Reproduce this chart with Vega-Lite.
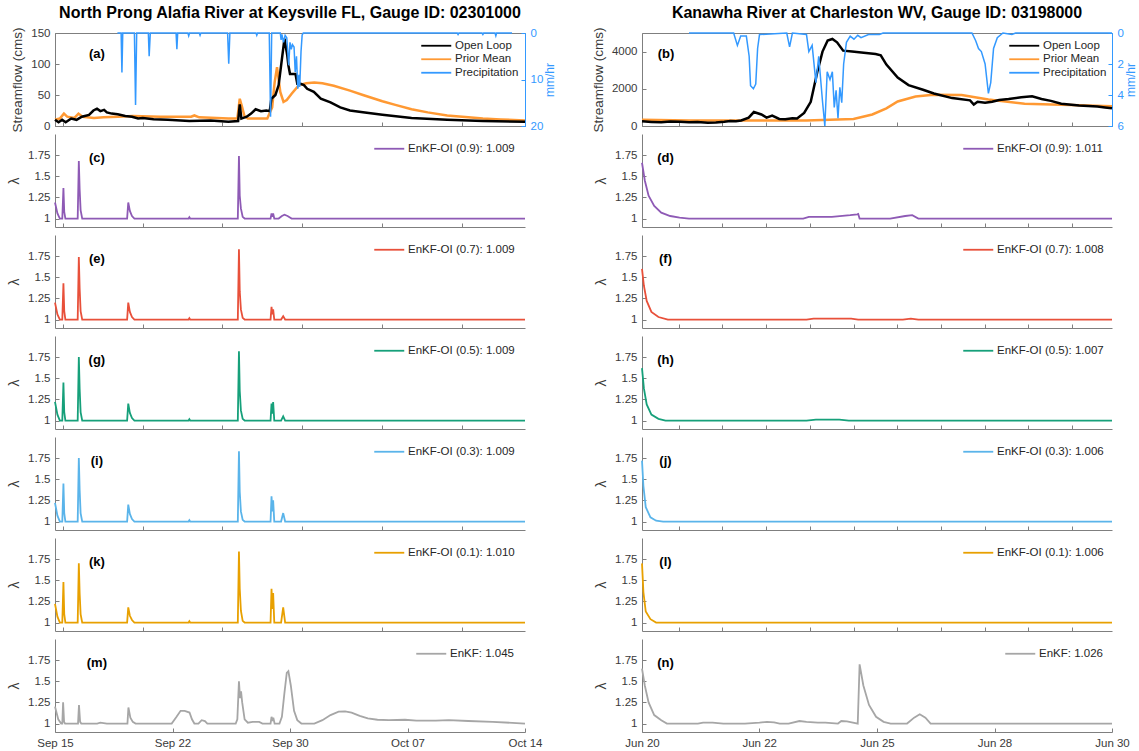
{
"$schema": "https://vega.github.io/schema/vega-lite/v6.json",
"padding": {"left": 7, "top": 4, "right": 0, "bottom": 2},
"config": {
 "font": "Liberation Sans",
 "view": {"stroke": null},
 "axis": {"grid": false, "domainColor": "#7f7f7f", "tickColor": "#7f7f7f", "labelColor": "#3a3a3a", "labelFontSize": 11.5, "titleFontSize": 13.5, "titleFontWeight": "normal", "titleColor": "#3a3a3a", "tickSize": -4, "labelPadding": 9, "titlePadding": 6, "domainWidth": 1, "labelOverlap": false, "labelFlush": false},
 "legend": {"symbolType": "M-3.75,0H3.75", "symbolSize": 64, "symbolStrokeWidth": 2.5, "symbolOffset": 9.5, "labelOffset": 13, "labelFontSize": 11.5, "labelColor": "#262626", "rowPadding": 0.5, "padding": 0},
 "title": {"fontSize": 16, "fontWeight": "bold", "color": "#000000", "frame": "group", "offset": 6},
 "line": {"strokeWidth": 1.8}
},
"columns": 2,
"spacing": {"row": 8, "column": 117},
"bounds": "flush",
"resolve": {"scale": {"color": "independent"}, "legend": {"color": "independent"}},
"datasets": {
 "fa": [
  {"s":"Open Loop","t":"2016-09-15T00:00","v":10},{"s":"Open Loop","t":"2016-09-15T05:17","v":6},{"s":"Open Loop","t":"2016-09-15T10:34","v":10},{"s":"Open Loop","t":"2016-09-15T15:50","v":6},{"s":"Open Loop","t":"2016-09-16T00:00","v":12},{"s":"Open Loop","t":"2016-09-16T07:55","v":10},{"s":"Open Loop","t":"2016-09-16T15:50","v":15},{"s":"Open Loop","t":"2016-09-17T02:24","v":18},{"s":"Open Loop","t":"2016-09-17T08:53","v":25},{"s":"Open Loop","t":"2016-09-17T14:10","v":28},{"s":"Open Loop","t":"2016-09-17T19:12","v":24},{"s":"Open Loop","t":"2016-09-18T00:43","v":26},{"s":"Open Loop","t":"2016-09-18T04:48","v":22},{"s":"Open Loop","t":"2016-09-18T12:00","v":20},{"s":"Open Loop","t":"2016-09-18T20:53","v":19},{"s":"Open Loop","t":"2016-09-19T08:00","v":16},{"s":"Open Loop","t":"2016-09-19T18:00","v":15},{"s":"Open Loop","t":"2016-09-20T03:00","v":12},{"s":"Open Loop","t":"2016-09-20T10:05","v":13},{"s":"Open Loop","t":"2016-09-21T01:55","v":11},{"s":"Open Loop","t":"2016-09-21T23:02","v":10},{"s":"Open Loop","t":"2016-09-22T18:00","v":9},{"s":"Open Loop","t":"2016-09-23T06:58","v":8},{"s":"Open Loop","t":"2016-09-24T14:24","v":9},{"s":"Open Loop","t":"2016-09-25T16:48","v":7},{"s":"Open Loop","t":"2016-09-26T07:12","v":8},{"s":"Open Loop","t":"2016-09-26T09:36","v":35},{"s":"Open Loop","t":"2016-09-26T12:00","v":12},{"s":"Open Loop","t":"2016-09-26T19:55","v":15},{"s":"Open Loop","t":"2016-09-27T02:24","v":20},{"s":"Open Loop","t":"2016-09-27T09:07","v":27},{"s":"Open Loop","t":"2016-09-27T17:02","v":24},{"s":"Open Loop","t":"2016-09-28T00:58","v":25},{"s":"Open Loop","t":"2016-09-28T06:00","v":24},{"s":"Open Loop","t":"2016-09-28T08:24","v":44},{"s":"Open Loop","t":"2016-09-28T14:24","v":50},{"s":"Open Loop","t":"2016-09-28T19:12","v":66},{"s":"Open Loop","t":"2016-09-29T00:00","v":108},{"s":"Open Loop","t":"2016-09-29T03:50","v":141},{"s":"Open Loop","t":"2016-09-29T07:55","v":114},{"s":"Open Loop","t":"2016-09-29T09:36","v":98},{"s":"Open Loop","t":"2016-09-29T12:00","v":84},{"s":"Open Loop","t":"2016-09-29T20:10","v":84},{"s":"Open Loop","t":"2016-09-29T22:48","v":68},{"s":"Open Loop","t":"2016-09-30T03:36","v":68},{"s":"Open Loop","t":"2016-09-30T08:38","v":66},{"s":"Open Loop","t":"2016-09-30T13:26","v":60},{"s":"Open Loop","t":"2016-09-30T23:17","v":55},{"s":"Open Loop","t":"2016-10-01T09:36","v":44},{"s":"Open Loop","t":"2016-10-02T00:00","v":38},{"s":"Open Loop","t":"2016-10-02T14:24","v":30},{"s":"Open Loop","t":"2016-10-03T04:48","v":25},{"s":"Open Loop","t":"2016-10-04T00:00","v":22},{"s":"Open Loop","t":"2016-10-05T04:48","v":18},{"s":"Open Loop","t":"2016-10-07T00:00","v":13},{"s":"Open Loop","t":"2016-10-09T04:48","v":10},{"s":"Open Loop","t":"2016-10-11T09:36","v":8},{"s":"Open Loop","t":"2016-10-14T00:00","v":7},
  {"s":"Prior Mean","t":"2016-09-15T00:00","v":10},{"s":"Prior Mean","t":"2016-09-15T07:12","v":12},{"s":"Prior Mean","t":"2016-09-15T13:12","v":20},{"s":"Prior Mean","t":"2016-09-15T18:00","v":15},{"s":"Prior Mean","t":"2016-09-16T04:48","v":13},{"s":"Prior Mean","t":"2016-09-16T10:48","v":20},{"s":"Prior Mean","t":"2016-09-16T16:48","v":15},{"s":"Prior Mean","t":"2016-09-17T09:36","v":13},{"s":"Prior Mean","t":"2016-09-18T00:00","v":14},{"s":"Prior Mean","t":"2016-09-18T21:36","v":15},{"s":"Prior Mean","t":"2016-09-19T19:12","v":16},{"s":"Prior Mean","t":"2016-09-21T12:00","v":15},{"s":"Prior Mean","t":"2016-09-23T09:36","v":15},{"s":"Prior Mean","t":"2016-09-23T14:24","v":17},{"s":"Prior Mean","t":"2016-09-23T21:36","v":14},{"s":"Prior Mean","t":"2016-09-25T16:48","v":12},{"s":"Prior Mean","t":"2016-09-26T06:00","v":12},{"s":"Prior Mean","t":"2016-09-26T09:36","v":44},{"s":"Prior Mean","t":"2016-09-26T13:12","v":30},{"s":"Prior Mean","t":"2016-09-26T16:48","v":15},{"s":"Prior Mean","t":"2016-09-26T21:36","v":12},{"s":"Prior Mean","t":"2016-09-28T02:24","v":12},{"s":"Prior Mean","t":"2016-09-28T04:48","v":18},{"s":"Prior Mean","t":"2016-09-28T09:36","v":30},{"s":"Prior Mean","t":"2016-09-28T13:12","v":70},{"s":"Prior Mean","t":"2016-09-28T16:48","v":95},{"s":"Prior Mean","t":"2016-09-28T21:36","v":55},{"s":"Prior Mean","t":"2016-09-29T02:24","v":39},{"s":"Prior Mean","t":"2016-09-29T07:12","v":42},{"s":"Prior Mean","t":"2016-09-29T14:24","v":52},{"s":"Prior Mean","t":"2016-09-30T01:12","v":66},{"s":"Prior Mean","t":"2016-09-30T12:00","v":69},{"s":"Prior Mean","t":"2016-10-01T00:00","v":70},{"s":"Prior Mean","t":"2016-10-01T12:00","v":69},{"s":"Prior Mean","t":"2016-10-02T04:48","v":65},{"s":"Prior Mean","t":"2016-10-03T04:48","v":57},{"s":"Prior Mean","t":"2016-10-04T00:00","v":50},{"s":"Prior Mean","t":"2016-10-05T04:48","v":40},{"s":"Prior Mean","t":"2016-10-06T00:00","v":34},{"s":"Prior Mean","t":"2016-10-07T00:00","v":27},{"s":"Prior Mean","t":"2016-10-08T00:00","v":22},{"s":"Prior Mean","t":"2016-10-09T04:48","v":17},{"s":"Prior Mean","t":"2016-10-10T12:00","v":14},{"s":"Prior Mean","t":"2016-10-11T09:36","v":12},{"s":"Prior Mean","t":"2016-10-12T12:00","v":10.5},{"s":"Prior Mean","t":"2016-10-14T00:00","v":9}
 ],
 "pa": [
  {"s":"Precipitation","t":"2016-09-18T20:24","v":0},{"s":"Precipitation","t":"2016-09-19T01:55","v":0},{"s":"Precipitation","t":"2016-09-19T03:07","v":8.5},{"s":"Precipitation","t":"2016-09-19T04:19","v":0},{"s":"Precipitation","t":"2016-09-19T21:36","v":0},{"s":"Precipitation","t":"2016-09-19T23:17","v":15.5},{"s":"Precipitation","t":"2016-09-20T00:58","v":0},{"s":"Precipitation","t":"2016-09-20T18:14","v":0},{"s":"Precipitation","t":"2016-09-20T19:26","v":5},{"s":"Precipitation","t":"2016-09-20T21:07","v":0},{"s":"Precipitation","t":"2016-09-22T11:17","v":0},{"s":"Precipitation","t":"2016-09-22T12:29","v":3.5},{"s":"Precipitation","t":"2016-09-22T13:41","v":0},{"s":"Precipitation","t":"2016-09-23T04:48","v":0},{"s":"Precipitation","t":"2016-09-23T06:00","v":0.6},{"s":"Precipitation","t":"2016-09-23T07:12","v":0},{"s":"Precipitation","t":"2016-09-23T21:36","v":0},{"s":"Precipitation","t":"2016-09-23T22:48","v":0.5},{"s":"Precipitation","t":"2016-09-24T00:00","v":0},{"s":"Precipitation","t":"2016-09-25T15:36","v":0},{"s":"Precipitation","t":"2016-09-25T17:17","v":6.6},{"s":"Precipitation","t":"2016-09-25T18:58","v":0},{"s":"Precipitation","t":"2016-09-27T09:36","v":0},{"s":"Precipitation","t":"2016-09-27T10:48","v":0.5},{"s":"Precipitation","t":"2016-09-27T12:00","v":0},{"s":"Precipitation","t":"2016-09-28T05:17","v":0},{"s":"Precipitation","t":"2016-09-28T07:12","v":18},{"s":"Precipitation","t":"2016-09-28T08:53","v":0},{"s":"Precipitation","t":"2016-09-28T21:36","v":0},{"s":"Precipitation","t":"2016-09-28T22:48","v":1.5},{"s":"Precipitation","t":"2016-09-29T00:00","v":0.3},{"s":"Precipitation","t":"2016-09-29T02:24","v":2},{"s":"Precipitation","t":"2016-09-29T04:48","v":0.5},{"s":"Precipitation","t":"2016-09-29T07:12","v":1},{"s":"Precipitation","t":"2016-09-29T10:05","v":6.9},{"s":"Precipitation","t":"2016-09-29T12:00","v":2},{"s":"Precipitation","t":"2016-09-29T13:55","v":3.5},{"s":"Precipitation","t":"2016-09-29T15:36","v":2.5},{"s":"Precipitation","t":"2016-09-29T18:00","v":3},{"s":"Precipitation","t":"2016-09-29T19:41","v":8.4},{"s":"Precipitation","t":"2016-09-29T21:36","v":5},{"s":"Precipitation","t":"2016-09-29T23:31","v":12},{"s":"Precipitation","t":"2016-09-30T01:12","v":9},{"s":"Precipitation","t":"2016-09-30T02:24","v":11.6},{"s":"Precipitation","t":"2016-09-30T04:19","v":4},{"s":"Precipitation","t":"2016-09-30T06:00","v":0.4},{"s":"Precipitation","t":"2016-09-30T07:41","v":0},{"s":"Precipitation","t":"2016-10-09T19:41","v":0},{"s":"Precipitation","t":"2016-10-09T20:53","v":0.3},{"s":"Precipitation","t":"2016-10-09T22:05","v":0},{"s":"Precipitation","t":"2016-10-11T08:24","v":0},{"s":"Precipitation","t":"2016-10-11T09:36","v":0.3},{"s":"Precipitation","t":"2016-10-11T10:48","v":0},{"s":"Precipitation","t":"2016-10-12T03:36","v":0},{"s":"Precipitation","t":"2016-10-12T04:48","v":0.6},{"s":"Precipitation","t":"2016-10-12T06:00","v":0},{"s":"Precipitation","t":"2016-10-13T04:48","v":0}
 ],
 "fb": [
  {"s":"Open Loop","t":"2016-06-20T00:00","v":250},{"s":"Open Loop","t":"2016-06-20T04:48","v":220},{"s":"Open Loop","t":"2016-06-20T09:50","v":200},{"s":"Open Loop","t":"2016-06-20T14:24","v":240},{"s":"Open Loop","t":"2016-06-20T19:12","v":230},{"s":"Open Loop","t":"2016-06-21T00:00","v":200},{"s":"Open Loop","t":"2016-06-21T04:19","v":210},{"s":"Open Loop","t":"2016-06-21T09:36","v":170},{"s":"Open Loop","t":"2016-06-21T13:41","v":190},{"s":"Open Loop","t":"2016-06-21T18:00","v":230},{"s":"Open Loop","t":"2016-06-21T21:07","v":270},{"s":"Open Loop","t":"2016-06-22T00:00","v":260},{"s":"Open Loop","t":"2016-06-22T02:38","v":300},{"s":"Open Loop","t":"2016-06-22T06:29","v":450},{"s":"Open Loop","t":"2016-06-22T09:07","v":750},{"s":"Open Loop","t":"2016-06-22T12:58","v":620},{"s":"Open Loop","t":"2016-06-22T15:36","v":450},{"s":"Open Loop","t":"2016-06-22T18:29","v":560},{"s":"Open Loop","t":"2016-06-22T22:05","v":380},{"s":"Open Loop","t":"2016-06-23T01:12","v":360},{"s":"Open Loop","t":"2016-06-23T04:48","v":420},{"s":"Open Loop","t":"2016-06-23T07:12","v":400},{"s":"Open Loop","t":"2016-06-23T10:48","v":700},{"s":"Open Loop","t":"2016-06-23T14:10","v":1300},{"s":"Open Loop","t":"2016-06-23T17:31","v":2900},{"s":"Open Loop","t":"2016-06-23T20:10","v":4000},{"s":"Open Loop","t":"2016-06-23T22:48","v":4600},{"s":"Open Loop","t":"2016-06-24T01:12","v":4680},{"s":"Open Loop","t":"2016-06-24T03:36","v":4500},{"s":"Open Loop","t":"2016-06-24T06:43","v":4050},{"s":"Open Loop","t":"2016-06-24T11:17","v":4000},{"s":"Open Loop","t":"2016-06-24T16:00","v":3950},{"s":"Open Loop","t":"2016-06-24T23:17","v":3870},{"s":"Open Loop","t":"2016-06-25T01:55","v":3800},{"s":"Open Loop","t":"2016-06-25T04:48","v":3300},{"s":"Open Loop","t":"2016-06-25T10:34","v":2600},{"s":"Open Loop","t":"2016-06-25T16:05","v":2200},{"s":"Open Loop","t":"2016-06-25T23:31","v":1950},{"s":"Open Loop","t":"2016-06-26T05:02","v":1750},{"s":"Open Loop","t":"2016-06-26T14:24","v":1500},{"s":"Open Loop","t":"2016-06-26T23:31","v":1380},{"s":"Open Loop","t":"2016-06-27T01:26","v":1150},{"s":"Open Loop","t":"2016-06-27T03:22","v":1300},{"s":"Open Loop","t":"2016-06-27T07:12","v":1250},{"s":"Open Loop","t":"2016-06-27T10:48","v":1300},{"s":"Open Loop","t":"2016-06-27T14:24","v":1400},{"s":"Open Loop","t":"2016-06-27T19:12","v":1450},{"s":"Open Loop","t":"2016-06-28T01:41","v":1550},{"s":"Open Loop","t":"2016-06-28T07:12","v":1600},{"s":"Open Loop","t":"2016-06-28T12:00","v":1450},{"s":"Open Loop","t":"2016-06-28T16:48","v":1350},{"s":"Open Loop","t":"2016-06-28T22:05","v":1200},{"s":"Open Loop","t":"2016-06-29T07:12","v":1100},{"s":"Open Loop","t":"2016-06-29T16:34","v":1050},{"s":"Open Loop","t":"2016-06-29T20:24","v":1000},{"s":"Open Loop","t":"2016-06-30T00:00","v":950},
  {"s":"Prior Mean","t":"2016-06-20T00:00","v":330},{"s":"Prior Mean","t":"2016-06-21T00:00","v":300},{"s":"Prior Mean","t":"2016-06-22T00:00","v":290},{"s":"Prior Mean","t":"2016-06-23T00:00","v":290},{"s":"Prior Mean","t":"2016-06-23T12:00","v":300},{"s":"Prior Mean","t":"2016-06-24T00:00","v":330},{"s":"Prior Mean","t":"2016-06-24T12:00","v":380},{"s":"Prior Mean","t":"2016-06-24T21:36","v":620},{"s":"Prior Mean","t":"2016-06-25T04:48","v":950},{"s":"Prior Mean","t":"2016-06-25T10:34","v":1320},{"s":"Prior Mean","t":"2016-06-25T19:41","v":1590},{"s":"Prior Mean","t":"2016-06-26T04:48","v":1680},{"s":"Prior Mean","t":"2016-06-26T19:12","v":1670},{"s":"Prior Mean","t":"2016-06-27T08:53","v":1420},{"s":"Prior Mean","t":"2016-06-28T03:22","v":1200},{"s":"Prior Mean","t":"2016-06-29T07:12","v":1110},{"s":"Prior Mean","t":"2016-06-30T00:00","v":1060}
 ],
 "pb": [
  {"s":"Precipitation","t":"2016-06-21T00:00","v":0},{"s":"Precipitation","t":"2016-06-21T22:48","v":0},{"s":"Precipitation","t":"2016-06-22T00:43","v":0.8},{"s":"Precipitation","t":"2016-06-22T02:24","v":0.2},{"s":"Precipitation","t":"2016-06-22T05:17","v":0.2},{"s":"Precipitation","t":"2016-06-22T06:43","v":1.5},{"s":"Precipitation","t":"2016-06-22T07:26","v":3.4},{"s":"Precipitation","t":"2016-06-22T08:53","v":3.6},{"s":"Precipitation","t":"2016-06-22T10:05","v":3.3},{"s":"Precipitation","t":"2016-06-22T11:02","v":1},{"s":"Precipitation","t":"2016-06-22T12:00","v":0.1},{"s":"Precipitation","t":"2016-06-23T01:55","v":0},{"s":"Precipitation","t":"2016-06-23T03:22","v":0.9},{"s":"Precipitation","t":"2016-06-23T04:48","v":0},{"s":"Precipitation","t":"2016-06-23T12:00","v":0.1},{"s":"Precipitation","t":"2016-06-23T13:12","v":1.2},{"s":"Precipitation","t":"2016-06-23T14:53","v":0.8},{"s":"Precipitation","t":"2016-06-23T16:48","v":3.2},{"s":"Precipitation","t":"2016-06-23T18:14","v":1.5},{"s":"Precipitation","t":"2016-06-23T20:10","v":4.4},{"s":"Precipitation","t":"2016-06-23T21:22","v":6},{"s":"Precipitation","t":"2016-06-23T22:34","v":2.5},{"s":"Precipitation","t":"2016-06-24T00:00","v":3},{"s":"Precipitation","t":"2016-06-24T01:12","v":2.5},{"s":"Precipitation","t":"2016-06-24T02:10","v":4.8},{"s":"Precipitation","t":"2016-06-24T03:07","v":3.7},{"s":"Precipitation","t":"2016-06-24T04:05","v":5.5},{"s":"Precipitation","t":"2016-06-24T05:02","v":3.5},{"s":"Precipitation","t":"2016-06-24T06:00","v":4.5},{"s":"Precipitation","t":"2016-06-24T06:58","v":2},{"s":"Precipitation","t":"2016-06-24T08:24","v":0.6},{"s":"Precipitation","t":"2016-06-24T10:19","v":0.2},{"s":"Precipitation","t":"2016-06-24T12:14","v":0.4},{"s":"Precipitation","t":"2016-06-24T14:10","v":0.15},{"s":"Precipitation","t":"2016-06-24T15:50","v":0.3},{"s":"Precipitation","t":"2016-06-24T19:41","v":0.1},{"s":"Precipitation","t":"2016-06-25T01:12","v":0.1},{"s":"Precipitation","t":"2016-06-25T03:07","v":0},{"s":"Precipitation","t":"2016-06-27T00:29","v":0},{"s":"Precipitation","t":"2016-06-27T02:24","v":0.5},{"s":"Precipitation","t":"2016-06-27T03:50","v":1},{"s":"Precipitation","t":"2016-06-27T05:17","v":1.2},{"s":"Precipitation","t":"2016-06-27T07:12","v":2},{"s":"Precipitation","t":"2016-06-27T08:53","v":3.9},{"s":"Precipitation","t":"2016-06-27T10:05","v":3.2},{"s":"Precipitation","t":"2016-06-27T11:31","v":1},{"s":"Precipitation","t":"2016-06-27T13:26","v":0.3},{"s":"Precipitation","t":"2016-06-27T16:19","v":0},{"s":"Precipitation","t":"2016-06-27T20:53","v":0.1},{"s":"Precipitation","t":"2016-06-27T22:48","v":0},{"s":"Precipitation","t":"2016-06-30T00:00","v":0}
 ],
 "lc": [
  {"s":"EnKF-OI (0.9): 1.009","t":"2016-09-15T00:00","v":1.19},{"s":"EnKF-OI (0.9): 1.009","t":"2016-09-15T03:36","v":1.06},{"s":"EnKF-OI (0.9): 1.009","t":"2016-09-15T07:12","v":1},{"s":"EnKF-OI (0.9): 1.009","t":"2016-09-15T10:48","v":1},{"s":"EnKF-OI (0.9): 1.009","t":"2016-09-15T12:29","v":1.36},{"s":"EnKF-OI (0.9): 1.009","t":"2016-09-15T13:41","v":1.08},{"s":"EnKF-OI (0.9): 1.009","t":"2016-09-15T15:22","v":1},{"s":"EnKF-OI (0.9): 1.009","t":"2016-09-16T09:36","v":1},{"s":"EnKF-OI (0.9): 1.009","t":"2016-09-16T11:17","v":1.68},{"s":"EnKF-OI (0.9): 1.009","t":"2016-09-16T12:29","v":1.35},{"s":"EnKF-OI (0.9): 1.009","t":"2016-09-16T13:55","v":1.1},{"s":"EnKF-OI (0.9): 1.009","t":"2016-09-16T16:19","v":1},{"s":"EnKF-OI (0.9): 1.009","t":"2016-09-19T10:48","v":1},{"s":"EnKF-OI (0.9): 1.009","t":"2016-09-19T12:29","v":1.19},{"s":"EnKF-OI (0.9): 1.009","t":"2016-09-19T14:53","v":1.09},{"s":"EnKF-OI (0.9): 1.009","t":"2016-09-19T18:00","v":1.03},{"s":"EnKF-OI (0.9): 1.009","t":"2016-09-19T21:36","v":1},{"s":"EnKF-OI (0.9): 1.009","t":"2016-09-23T05:46","v":1},{"s":"EnKF-OI (0.9): 1.009","t":"2016-09-23T06:58","v":1.015},{"s":"EnKF-OI (0.9): 1.009","t":"2016-09-23T08:10","v":1},{"s":"EnKF-OI (0.9): 1.009","t":"2016-09-26T06:43","v":1},{"s":"EnKF-OI (0.9): 1.009","t":"2016-09-26T08:24","v":1.74},{"s":"EnKF-OI (0.9): 1.009","t":"2016-09-26T09:36","v":1.27},{"s":"EnKF-OI (0.9): 1.009","t":"2016-09-26T11:17","v":1.12},{"s":"EnKF-OI (0.9): 1.009","t":"2016-09-26T13:55","v":1.02},{"s":"EnKF-OI (0.9): 1.009","t":"2016-09-26T16:48","v":1},{"s":"EnKF-OI (0.9): 1.009","t":"2016-09-28T07:12","v":1},{"s":"EnKF-OI (0.9): 1.009","t":"2016-09-28T08:38","v":1.06},{"s":"EnKF-OI (0.9): 1.009","t":"2016-09-28T09:50","v":1.02},{"s":"EnKF-OI (0.9): 1.009","t":"2016-09-28T11:02","v":1.06},{"s":"EnKF-OI (0.9): 1.009","t":"2016-09-28T12:43","v":1},{"s":"EnKF-OI (0.9): 1.009","t":"2016-09-28T19:12","v":1},{"s":"EnKF-OI (0.9): 1.009","t":"2016-09-29T00:00","v":1.03},{"s":"EnKF-OI (0.9): 1.009","t":"2016-09-29T03:50","v":1.045},{"s":"EnKF-OI (0.9): 1.009","t":"2016-09-29T08:24","v":1.03},{"s":"EnKF-OI (0.9): 1.009","t":"2016-09-29T14:24","v":1},{"s":"EnKF-OI (0.9): 1.009","t":"2016-10-14T00:00","v":1}
 ],
 "le": [
  {"s":"EnKF-OI (0.7): 1.009","t":"2016-09-15T00:00","v":1.2},{"s":"EnKF-OI (0.7): 1.009","t":"2016-09-15T03:36","v":1.06},{"s":"EnKF-OI (0.7): 1.009","t":"2016-09-15T07:12","v":1},{"s":"EnKF-OI (0.7): 1.009","t":"2016-09-15T10:48","v":1},{"s":"EnKF-OI (0.7): 1.009","t":"2016-09-15T12:29","v":1.43},{"s":"EnKF-OI (0.7): 1.009","t":"2016-09-15T13:41","v":1.1},{"s":"EnKF-OI (0.7): 1.009","t":"2016-09-15T15:22","v":1},{"s":"EnKF-OI (0.7): 1.009","t":"2016-09-16T09:36","v":1},{"s":"EnKF-OI (0.7): 1.009","t":"2016-09-16T11:17","v":1.74},{"s":"EnKF-OI (0.7): 1.009","t":"2016-09-16T12:29","v":1.37},{"s":"EnKF-OI (0.7): 1.009","t":"2016-09-16T13:55","v":1.1},{"s":"EnKF-OI (0.7): 1.009","t":"2016-09-16T16:19","v":1},{"s":"EnKF-OI (0.7): 1.009","t":"2016-09-19T10:48","v":1},{"s":"EnKF-OI (0.7): 1.009","t":"2016-09-19T12:29","v":1.2},{"s":"EnKF-OI (0.7): 1.009","t":"2016-09-19T14:53","v":1.09},{"s":"EnKF-OI (0.7): 1.009","t":"2016-09-19T18:00","v":1.03},{"s":"EnKF-OI (0.7): 1.009","t":"2016-09-19T21:36","v":1},{"s":"EnKF-OI (0.7): 1.009","t":"2016-09-23T05:46","v":1},{"s":"EnKF-OI (0.7): 1.009","t":"2016-09-23T06:58","v":1.015},{"s":"EnKF-OI (0.7): 1.009","t":"2016-09-23T08:10","v":1},{"s":"EnKF-OI (0.7): 1.009","t":"2016-09-26T06:43","v":1},{"s":"EnKF-OI (0.7): 1.009","t":"2016-09-26T08:24","v":1.83},{"s":"EnKF-OI (0.7): 1.009","t":"2016-09-26T09:36","v":1.33},{"s":"EnKF-OI (0.7): 1.009","t":"2016-09-26T11:17","v":1.12},{"s":"EnKF-OI (0.7): 1.009","t":"2016-09-26T13:55","v":1.02},{"s":"EnKF-OI (0.7): 1.009","t":"2016-09-26T16:48","v":1},{"s":"EnKF-OI (0.7): 1.009","t":"2016-09-28T07:12","v":1},{"s":"EnKF-OI (0.7): 1.009","t":"2016-09-28T08:38","v":1.15},{"s":"EnKF-OI (0.7): 1.009","t":"2016-09-28T09:50","v":1.06},{"s":"EnKF-OI (0.7): 1.009","t":"2016-09-28T11:02","v":1.12},{"s":"EnKF-OI (0.7): 1.009","t":"2016-09-28T12:43","v":1},{"s":"EnKF-OI (0.7): 1.009","t":"2016-09-28T22:48","v":1},{"s":"EnKF-OI (0.7): 1.009","t":"2016-09-29T01:55","v":1.04},{"s":"EnKF-OI (0.7): 1.009","t":"2016-09-29T04:48","v":1},{"s":"EnKF-OI (0.7): 1.009","t":"2016-10-14T00:00","v":1}
 ],
 "lg": [
  {"s":"EnKF-OI (0.5): 1.009","t":"2016-09-15T00:00","v":1.22},{"s":"EnKF-OI (0.5): 1.009","t":"2016-09-15T03:36","v":1.07},{"s":"EnKF-OI (0.5): 1.009","t":"2016-09-15T07:12","v":1},{"s":"EnKF-OI (0.5): 1.009","t":"2016-09-15T10:48","v":1},{"s":"EnKF-OI (0.5): 1.009","t":"2016-09-15T12:29","v":1.45},{"s":"EnKF-OI (0.5): 1.009","t":"2016-09-15T13:41","v":1.1},{"s":"EnKF-OI (0.5): 1.009","t":"2016-09-15T15:22","v":1},{"s":"EnKF-OI (0.5): 1.009","t":"2016-09-16T09:36","v":1},{"s":"EnKF-OI (0.5): 1.009","t":"2016-09-16T11:17","v":1.75},{"s":"EnKF-OI (0.5): 1.009","t":"2016-09-16T12:29","v":1.38},{"s":"EnKF-OI (0.5): 1.009","t":"2016-09-16T13:55","v":1.1},{"s":"EnKF-OI (0.5): 1.009","t":"2016-09-16T16:19","v":1},{"s":"EnKF-OI (0.5): 1.009","t":"2016-09-19T10:48","v":1},{"s":"EnKF-OI (0.5): 1.009","t":"2016-09-19T12:29","v":1.2},{"s":"EnKF-OI (0.5): 1.009","t":"2016-09-19T14:53","v":1.09},{"s":"EnKF-OI (0.5): 1.009","t":"2016-09-19T18:00","v":1.03},{"s":"EnKF-OI (0.5): 1.009","t":"2016-09-19T21:36","v":1},{"s":"EnKF-OI (0.5): 1.009","t":"2016-09-23T05:46","v":1},{"s":"EnKF-OI (0.5): 1.009","t":"2016-09-23T06:58","v":1.015},{"s":"EnKF-OI (0.5): 1.009","t":"2016-09-23T08:10","v":1},{"s":"EnKF-OI (0.5): 1.009","t":"2016-09-26T06:43","v":1},{"s":"EnKF-OI (0.5): 1.009","t":"2016-09-26T08:24","v":1.82},{"s":"EnKF-OI (0.5): 1.009","t":"2016-09-26T09:36","v":1.35},{"s":"EnKF-OI (0.5): 1.009","t":"2016-09-26T11:17","v":1.12},{"s":"EnKF-OI (0.5): 1.009","t":"2016-09-26T13:55","v":1.02},{"s":"EnKF-OI (0.5): 1.009","t":"2016-09-26T16:48","v":1},{"s":"EnKF-OI (0.5): 1.009","t":"2016-09-28T07:12","v":1},{"s":"EnKF-OI (0.5): 1.009","t":"2016-09-28T08:38","v":1.2},{"s":"EnKF-OI (0.5): 1.009","t":"2016-09-28T09:50","v":1.08},{"s":"EnKF-OI (0.5): 1.009","t":"2016-09-28T11:02","v":1.22},{"s":"EnKF-OI (0.5): 1.009","t":"2016-09-28T12:43","v":1},{"s":"EnKF-OI (0.5): 1.009","t":"2016-09-28T22:48","v":1},{"s":"EnKF-OI (0.5): 1.009","t":"2016-09-29T01:55","v":1.05},{"s":"EnKF-OI (0.5): 1.009","t":"2016-09-29T04:48","v":1},{"s":"EnKF-OI (0.5): 1.009","t":"2016-10-14T00:00","v":1}
 ],
 "li": [
  {"s":"EnKF-OI (0.3): 1.009","t":"2016-09-15T00:00","v":1.22},{"s":"EnKF-OI (0.3): 1.009","t":"2016-09-15T03:36","v":1.07},{"s":"EnKF-OI (0.3): 1.009","t":"2016-09-15T07:12","v":1},{"s":"EnKF-OI (0.3): 1.009","t":"2016-09-15T10:48","v":1},{"s":"EnKF-OI (0.3): 1.009","t":"2016-09-15T12:29","v":1.45},{"s":"EnKF-OI (0.3): 1.009","t":"2016-09-15T13:41","v":1.1},{"s":"EnKF-OI (0.3): 1.009","t":"2016-09-15T15:22","v":1},{"s":"EnKF-OI (0.3): 1.009","t":"2016-09-16T09:36","v":1},{"s":"EnKF-OI (0.3): 1.009","t":"2016-09-16T11:17","v":1.75},{"s":"EnKF-OI (0.3): 1.009","t":"2016-09-16T12:29","v":1.38},{"s":"EnKF-OI (0.3): 1.009","t":"2016-09-16T13:55","v":1.1},{"s":"EnKF-OI (0.3): 1.009","t":"2016-09-16T16:19","v":1},{"s":"EnKF-OI (0.3): 1.009","t":"2016-09-19T10:48","v":1},{"s":"EnKF-OI (0.3): 1.009","t":"2016-09-19T12:29","v":1.2},{"s":"EnKF-OI (0.3): 1.009","t":"2016-09-19T14:53","v":1.09},{"s":"EnKF-OI (0.3): 1.009","t":"2016-09-19T18:00","v":1.03},{"s":"EnKF-OI (0.3): 1.009","t":"2016-09-19T21:36","v":1},{"s":"EnKF-OI (0.3): 1.009","t":"2016-09-23T05:46","v":1},{"s":"EnKF-OI (0.3): 1.009","t":"2016-09-23T06:58","v":1.015},{"s":"EnKF-OI (0.3): 1.009","t":"2016-09-23T08:10","v":1},{"s":"EnKF-OI (0.3): 1.009","t":"2016-09-26T06:43","v":1},{"s":"EnKF-OI (0.3): 1.009","t":"2016-09-26T08:24","v":1.83},{"s":"EnKF-OI (0.3): 1.009","t":"2016-09-26T09:36","v":1.35},{"s":"EnKF-OI (0.3): 1.009","t":"2016-09-26T11:17","v":1.12},{"s":"EnKF-OI (0.3): 1.009","t":"2016-09-26T13:55","v":1.02},{"s":"EnKF-OI (0.3): 1.009","t":"2016-09-26T16:48","v":1},{"s":"EnKF-OI (0.3): 1.009","t":"2016-09-28T07:12","v":1},{"s":"EnKF-OI (0.3): 1.009","t":"2016-09-28T08:38","v":1.3},{"s":"EnKF-OI (0.3): 1.009","t":"2016-09-28T09:50","v":1.12},{"s":"EnKF-OI (0.3): 1.009","t":"2016-09-28T11:02","v":1.25},{"s":"EnKF-OI (0.3): 1.009","t":"2016-09-28T12:43","v":1},{"s":"EnKF-OI (0.3): 1.009","t":"2016-09-28T22:48","v":1},{"s":"EnKF-OI (0.3): 1.009","t":"2016-09-29T01:55","v":1.1},{"s":"EnKF-OI (0.3): 1.009","t":"2016-09-29T04:48","v":1},{"s":"EnKF-OI (0.3): 1.009","t":"2016-10-14T00:00","v":1}
 ],
 "lk": [
  {"s":"EnKF-OI (0.1): 1.010","t":"2016-09-15T00:00","v":1.22},{"s":"EnKF-OI (0.1): 1.010","t":"2016-09-15T03:36","v":1.07},{"s":"EnKF-OI (0.1): 1.010","t":"2016-09-15T07:12","v":1},{"s":"EnKF-OI (0.1): 1.010","t":"2016-09-15T10:48","v":1},{"s":"EnKF-OI (0.1): 1.010","t":"2016-09-15T12:29","v":1.48},{"s":"EnKF-OI (0.1): 1.010","t":"2016-09-15T13:41","v":1.1},{"s":"EnKF-OI (0.1): 1.010","t":"2016-09-15T15:22","v":1},{"s":"EnKF-OI (0.1): 1.010","t":"2016-09-16T09:36","v":1},{"s":"EnKF-OI (0.1): 1.010","t":"2016-09-16T11:17","v":1.7},{"s":"EnKF-OI (0.1): 1.010","t":"2016-09-16T12:29","v":1.35},{"s":"EnKF-OI (0.1): 1.010","t":"2016-09-16T13:55","v":1.1},{"s":"EnKF-OI (0.1): 1.010","t":"2016-09-16T16:19","v":1},{"s":"EnKF-OI (0.1): 1.010","t":"2016-09-19T10:48","v":1},{"s":"EnKF-OI (0.1): 1.010","t":"2016-09-19T12:29","v":1.18},{"s":"EnKF-OI (0.1): 1.010","t":"2016-09-19T14:53","v":1.08},{"s":"EnKF-OI (0.1): 1.010","t":"2016-09-19T18:00","v":1.03},{"s":"EnKF-OI (0.1): 1.010","t":"2016-09-19T21:36","v":1},{"s":"EnKF-OI (0.1): 1.010","t":"2016-09-23T05:46","v":1},{"s":"EnKF-OI (0.1): 1.010","t":"2016-09-23T06:58","v":1.015},{"s":"EnKF-OI (0.1): 1.010","t":"2016-09-23T08:10","v":1},{"s":"EnKF-OI (0.1): 1.010","t":"2016-09-26T06:43","v":1},{"s":"EnKF-OI (0.1): 1.010","t":"2016-09-26T08:24","v":1.84},{"s":"EnKF-OI (0.1): 1.010","t":"2016-09-26T09:36","v":1.4},{"s":"EnKF-OI (0.1): 1.010","t":"2016-09-26T11:17","v":1.14},{"s":"EnKF-OI (0.1): 1.010","t":"2016-09-26T13:55","v":1.02},{"s":"EnKF-OI (0.1): 1.010","t":"2016-09-26T16:48","v":1},{"s":"EnKF-OI (0.1): 1.010","t":"2016-09-28T07:12","v":1},{"s":"EnKF-OI (0.1): 1.010","t":"2016-09-28T08:38","v":1.4},{"s":"EnKF-OI (0.1): 1.010","t":"2016-09-28T09:50","v":1.16},{"s":"EnKF-OI (0.1): 1.010","t":"2016-09-28T11:02","v":1.35},{"s":"EnKF-OI (0.1): 1.010","t":"2016-09-28T12:43","v":1},{"s":"EnKF-OI (0.1): 1.010","t":"2016-09-28T22:48","v":1},{"s":"EnKF-OI (0.1): 1.010","t":"2016-09-29T01:55","v":1.18},{"s":"EnKF-OI (0.1): 1.010","t":"2016-09-29T04:48","v":1},{"s":"EnKF-OI (0.1): 1.010","t":"2016-10-14T00:00","v":1}
 ],
 "lm": [
  {"s":"EnKF: 1.045","t":"2016-09-15T00:00","v":1.2},{"s":"EnKF: 1.045","t":"2016-09-15T04:48","v":1.05},{"s":"EnKF: 1.045","t":"2016-09-15T09:07","v":1},{"s":"EnKF: 1.045","t":"2016-09-15T10:48","v":1},{"s":"EnKF: 1.045","t":"2016-09-15T12:00","v":1.25},{"s":"EnKF: 1.045","t":"2016-09-15T13:26","v":1.02},{"s":"EnKF: 1.045","t":"2016-09-15T14:53","v":1},{"s":"EnKF: 1.045","t":"2016-09-16T10:05","v":1},{"s":"EnKF: 1.045","t":"2016-09-16T11:31","v":1.22},{"s":"EnKF: 1.045","t":"2016-09-16T13:12","v":1.02},{"s":"EnKF: 1.045","t":"2016-09-16T14:53","v":1},{"s":"EnKF: 1.045","t":"2016-09-17T14:24","v":1},{"s":"EnKF: 1.045","t":"2016-09-17T19:12","v":1.01},{"s":"EnKF: 1.045","t":"2016-09-18T04:48","v":1},{"s":"EnKF: 1.045","t":"2016-09-19T11:17","v":1},{"s":"EnKF: 1.045","t":"2016-09-19T12:43","v":1.19},{"s":"EnKF: 1.045","t":"2016-09-19T15:36","v":1.07},{"s":"EnKF: 1.045","t":"2016-09-19T19:12","v":1.02},{"s":"EnKF: 1.045","t":"2016-09-19T23:17","v":1},{"s":"EnKF: 1.045","t":"2016-09-22T04:48","v":1},{"s":"EnKF: 1.045","t":"2016-09-22T12:00","v":1.08},{"s":"EnKF: 1.045","t":"2016-09-22T18:00","v":1.15},{"s":"EnKF: 1.045","t":"2016-09-23T00:00","v":1.15},{"s":"EnKF: 1.045","t":"2016-09-23T07:12","v":1.13},{"s":"EnKF: 1.045","t":"2016-09-23T10:48","v":1.05},{"s":"EnKF: 1.045","t":"2016-09-23T14:24","v":1},{"s":"EnKF: 1.045","t":"2016-09-23T20:24","v":1},{"s":"EnKF: 1.045","t":"2016-09-24T01:12","v":1.04},{"s":"EnKF: 1.045","t":"2016-09-24T06:00","v":1.03},{"s":"EnKF: 1.045","t":"2016-09-24T09:36","v":1},{"s":"EnKF: 1.045","t":"2016-09-26T03:36","v":1},{"s":"EnKF: 1.045","t":"2016-09-26T06:00","v":1.05},{"s":"EnKF: 1.045","t":"2016-09-26T08:24","v":1.5},{"s":"EnKF: 1.045","t":"2016-09-26T10:05","v":1.3},{"s":"EnKF: 1.045","t":"2016-09-26T11:31","v":1.38},{"s":"EnKF: 1.045","t":"2016-09-26T13:12","v":1.25},{"s":"EnKF: 1.045","t":"2016-09-26T16:48","v":1.05},{"s":"EnKF: 1.045","t":"2016-09-26T21:36","v":1.01},{"s":"EnKF: 1.045","t":"2016-09-27T04:48","v":1.02},{"s":"EnKF: 1.045","t":"2016-09-27T14:24","v":1.02},{"s":"EnKF: 1.045","t":"2016-09-27T19:12","v":1},{"s":"EnKF: 1.045","t":"2016-09-28T07:12","v":1},{"s":"EnKF: 1.045","t":"2016-09-28T08:38","v":1.08},{"s":"EnKF: 1.045","t":"2016-09-28T10:05","v":1.03},{"s":"EnKF: 1.045","t":"2016-09-28T11:17","v":1.07},{"s":"EnKF: 1.045","t":"2016-09-28T13:12","v":1},{"s":"EnKF: 1.045","t":"2016-09-28T20:24","v":1},{"s":"EnKF: 1.045","t":"2016-09-29T00:00","v":1.08},{"s":"EnKF: 1.045","t":"2016-09-29T03:36","v":1.35},{"s":"EnKF: 1.045","t":"2016-09-29T07:12","v":1.6},{"s":"EnKF: 1.045","t":"2016-09-29T09:36","v":1.62},{"s":"EnKF: 1.045","t":"2016-09-29T13:12","v":1.45},{"s":"EnKF: 1.045","t":"2016-09-29T18:00","v":1.15},{"s":"EnKF: 1.045","t":"2016-09-29T22:48","v":1.04},{"s":"EnKF: 1.045","t":"2016-09-30T04:48","v":1},{"s":"EnKF: 1.045","t":"2016-10-01T00:00","v":1},{"s":"EnKF: 1.045","t":"2016-10-01T12:00","v":1.04},{"s":"EnKF: 1.045","t":"2016-10-02T00:00","v":1.1},{"s":"EnKF: 1.045","t":"2016-10-02T12:00","v":1.14},{"s":"EnKF: 1.045","t":"2016-10-02T21:36","v":1.145},{"s":"EnKF: 1.045","t":"2016-10-03T07:12","v":1.13},{"s":"EnKF: 1.045","t":"2016-10-03T19:12","v":1.09},{"s":"EnKF: 1.045","t":"2016-10-04T07:12","v":1.06},{"s":"EnKF: 1.045","t":"2016-10-04T21:36","v":1.045},{"s":"EnKF: 1.045","t":"2016-10-05T14:24","v":1.04},{"s":"EnKF: 1.045","t":"2016-10-06T14:24","v":1.045},{"s":"EnKF: 1.045","t":"2016-10-07T07:12","v":1.035},{"s":"EnKF: 1.045","t":"2016-10-08T12:00","v":1.035},{"s":"EnKF: 1.045","t":"2016-10-09T07:12","v":1.04},{"s":"EnKF: 1.045","t":"2016-10-10T12:00","v":1.03},{"s":"EnKF: 1.045","t":"2016-10-12T00:00","v":1.02},{"s":"EnKF: 1.045","t":"2016-10-14T00:00","v":1}
 ],
 "ld": [
  {"s":"EnKF-OI (0.9): 1.011","t":"2016-06-20T00:00","v":1.66},{"s":"EnKF-OI (0.9): 1.011","t":"2016-06-20T01:26","v":1.45},{"s":"EnKF-OI (0.9): 1.011","t":"2016-06-20T03:22","v":1.27},{"s":"EnKF-OI (0.9): 1.011","t":"2016-06-20T06:14","v":1.15},{"s":"EnKF-OI (0.9): 1.011","t":"2016-06-20T09:50","v":1.07},{"s":"EnKF-OI (0.9): 1.011","t":"2016-06-20T14:24","v":1.03},{"s":"EnKF-OI (0.9): 1.011","t":"2016-06-20T19:12","v":1.01},{"s":"EnKF-OI (0.9): 1.011","t":"2016-06-21T00:00","v":1},{"s":"EnKF-OI (0.9): 1.011","t":"2016-06-23T10:19","v":1},{"s":"EnKF-OI (0.9): 1.011","t":"2016-06-23T13:12","v":1.02},{"s":"EnKF-OI (0.9): 1.011","t":"2016-06-24T00:58","v":1.02},{"s":"EnKF-OI (0.9): 1.011","t":"2016-06-24T10:19","v":1.04},{"s":"EnKF-OI (0.9): 1.011","t":"2016-06-24T13:55","v":1.05},{"s":"EnKF-OI (0.9): 1.011","t":"2016-06-24T14:24","v":1.055},{"s":"EnKF-OI (0.9): 1.011","t":"2016-06-24T15:07","v":1},{"s":"EnKF-OI (0.9): 1.011","t":"2016-06-25T06:43","v":1},{"s":"EnKF-OI (0.9): 1.011","t":"2016-06-25T14:24","v":1.03},{"s":"EnKF-OI (0.9): 1.011","t":"2016-06-25T18:00","v":1.04},{"s":"EnKF-OI (0.9): 1.011","t":"2016-06-25T21:07","v":1},{"s":"EnKF-OI (0.9): 1.011","t":"2016-06-30T00:00","v":1}
 ],
 "lf": [
  {"s":"EnKF-OI (0.7): 1.008","t":"2016-06-20T00:00","v":1.6},{"s":"EnKF-OI (0.7): 1.008","t":"2016-06-20T00:58","v":1.4},{"s":"EnKF-OI (0.7): 1.008","t":"2016-06-20T02:24","v":1.22},{"s":"EnKF-OI (0.7): 1.008","t":"2016-06-20T04:48","v":1.09},{"s":"EnKF-OI (0.7): 1.008","t":"2016-06-20T08:24","v":1.03},{"s":"EnKF-OI (0.7): 1.008","t":"2016-06-20T13:12","v":1},{"s":"EnKF-OI (0.7): 1.008","t":"2016-06-23T12:00","v":1},{"s":"EnKF-OI (0.7): 1.008","t":"2016-06-23T15:36","v":1.01},{"s":"EnKF-OI (0.7): 1.008","t":"2016-06-24T10:48","v":1.01},{"s":"EnKF-OI (0.7): 1.008","t":"2016-06-24T14:24","v":1},{"s":"EnKF-OI (0.7): 1.008","t":"2016-06-25T13:12","v":1},{"s":"EnKF-OI (0.7): 1.008","t":"2016-06-25T17:17","v":1.01},{"s":"EnKF-OI (0.7): 1.008","t":"2016-06-25T21:07","v":1},{"s":"EnKF-OI (0.7): 1.008","t":"2016-06-30T00:00","v":1}
 ],
 "lh": [
  {"s":"EnKF-OI (0.5): 1.007","t":"2016-06-20T00:00","v":1.62},{"s":"EnKF-OI (0.5): 1.007","t":"2016-06-20T00:58","v":1.38},{"s":"EnKF-OI (0.5): 1.007","t":"2016-06-20T02:24","v":1.19},{"s":"EnKF-OI (0.5): 1.007","t":"2016-06-20T04:48","v":1.07},{"s":"EnKF-OI (0.5): 1.007","t":"2016-06-20T08:24","v":1.02},{"s":"EnKF-OI (0.5): 1.007","t":"2016-06-20T12:00","v":1},{"s":"EnKF-OI (0.5): 1.007","t":"2016-06-23T12:00","v":1},{"s":"EnKF-OI (0.5): 1.007","t":"2016-06-23T16:48","v":1.01},{"s":"EnKF-OI (0.5): 1.007","t":"2016-06-24T04:48","v":1.01},{"s":"EnKF-OI (0.5): 1.007","t":"2016-06-24T09:36","v":1},{"s":"EnKF-OI (0.5): 1.007","t":"2016-06-30T00:00","v":1}
 ],
 "lj": [
  {"s":"EnKF-OI (0.3): 1.006","t":"2016-06-20T00:00","v":1.72},{"s":"EnKF-OI (0.3): 1.006","t":"2016-06-20T00:43","v":1.42},{"s":"EnKF-OI (0.3): 1.006","t":"2016-06-20T01:55","v":1.17},{"s":"EnKF-OI (0.3): 1.006","t":"2016-06-20T04:19","v":1.05},{"s":"EnKF-OI (0.3): 1.006","t":"2016-06-20T07:12","v":1.01},{"s":"EnKF-OI (0.3): 1.006","t":"2016-06-20T10:48","v":1},{"s":"EnKF-OI (0.3): 1.006","t":"2016-06-30T00:00","v":1}
 ],
 "ll": [
  {"s":"EnKF-OI (0.1): 1.006","t":"2016-06-20T00:00","v":1.7},{"s":"EnKF-OI (0.1): 1.006","t":"2016-06-20T00:43","v":1.36},{"s":"EnKF-OI (0.1): 1.006","t":"2016-06-20T01:55","v":1.13},{"s":"EnKF-OI (0.1): 1.006","t":"2016-06-20T04:19","v":1.04},{"s":"EnKF-OI (0.1): 1.006","t":"2016-06-20T07:12","v":1},{"s":"EnKF-OI (0.1): 1.006","t":"2016-06-30T00:00","v":1}
 ],
 "ln": [
  {"s":"EnKF: 1.026","t":"2016-06-20T00:00","v":1.65},{"s":"EnKF: 1.026","t":"2016-06-20T01:26","v":1.45},{"s":"EnKF: 1.026","t":"2016-06-20T03:22","v":1.25},{"s":"EnKF: 1.026","t":"2016-06-20T06:14","v":1.1},{"s":"EnKF: 1.026","t":"2016-06-20T09:50","v":1.04},{"s":"EnKF: 1.026","t":"2016-06-20T12:43","v":1},{"s":"EnKF: 1.026","t":"2016-06-21T04:34","v":1},{"s":"EnKF: 1.026","t":"2016-06-21T07:12","v":1.01},{"s":"EnKF: 1.026","t":"2016-06-21T12:00","v":1.01},{"s":"EnKF: 1.026","t":"2016-06-21T17:31","v":1},{"s":"EnKF: 1.026","t":"2016-06-22T04:34","v":1},{"s":"EnKF: 1.026","t":"2016-06-22T12:00","v":1.01},{"s":"EnKF: 1.026","t":"2016-06-22T15:50","v":1.02},{"s":"EnKF: 1.026","t":"2016-06-22T19:26","v":1.015},{"s":"EnKF: 1.026","t":"2016-06-22T22:19","v":1},{"s":"EnKF: 1.026","t":"2016-06-23T02:53","v":1},{"s":"EnKF: 1.026","t":"2016-06-23T08:24","v":1.03},{"s":"EnKF: 1.026","t":"2016-06-23T12:00","v":1.02},{"s":"EnKF: 1.026","t":"2016-06-23T17:46","v":1.01},{"s":"EnKF: 1.026","t":"2016-06-23T21:36","v":1.01},{"s":"EnKF: 1.026","t":"2016-06-24T04:05","v":1},{"s":"EnKF: 1.026","t":"2016-06-24T05:46","v":1.03},{"s":"EnKF: 1.026","t":"2016-06-24T08:38","v":1.025},{"s":"EnKF: 1.026","t":"2016-06-24T14:10","v":1},{"s":"EnKF: 1.026","t":"2016-06-24T15:07","v":1.7},{"s":"EnKF: 1.026","t":"2016-06-24T17:02","v":1.45},{"s":"EnKF: 1.026","t":"2016-06-24T19:55","v":1.22},{"s":"EnKF: 1.026","t":"2016-06-24T23:31","v":1.08},{"s":"EnKF: 1.026","t":"2016-06-25T03:22","v":1.02},{"s":"EnKF: 1.026","t":"2016-06-25T06:58","v":1},{"s":"EnKF: 1.026","t":"2016-06-25T15:22","v":1},{"s":"EnKF: 1.026","t":"2016-06-25T18:58","v":1.07},{"s":"EnKF: 1.026","t":"2016-06-25T21:50","v":1.11},{"s":"EnKF: 1.026","t":"2016-06-26T00:43","v":1.07},{"s":"EnKF: 1.026","t":"2016-06-26T03:22","v":1},{"s":"EnKF: 1.026","t":"2016-06-30T00:00","v":1}
 ]
},
"concat": [
 {"width": 470, "height": 93,
  "title": {"text": "North Prong Alafia River at Keysville FL, Gauge ID: 02301000"},
  "view": {"stroke": "#7f7f7f"},
  "layer": [
   {"layer": [
     {"data": {"name": "fa"}, "transform": [{"filter": "datum.s == 'Prior Mean'"}], "mark": {"type": "line", "strokeWidth": 2.5},
      "encoding": {
       "x": {"field": "t", "type": "temporal", "scale": {"domain": [{"year":2016,"month":9,"date":15},{"year":2016,"month":10,"date":14}], "nice": false},
             "axis": {"title": null, "labels": false, "values": [{"year":2016,"month":9,"date":15,"hours":12},{"year":2016,"month":9,"date":20,"hours":10},{"year":2016,"month":9,"date":25,"hours":8},{"year":2016,"month":9,"date":30,"hours":6},{"year":2016,"month":10,"date":5,"hours":4},{"year":2016,"month":10,"date":10,"hours":2}]}},
       "y": {"field": "v", "type": "quantitative", "scale": {"domain": [0, 150], "nice": false}, "axis": {"values": [0, 50, 100, 150], "tickCount": 10, "format": "d", "labelOverlap": false, "title": "Streamflow (cms)"}},
       "color": {"field": "s", "type": "nominal", "scale": {"domain": ["Open Loop", "Prior Mean", "Precipitation"], "range": ["#000000", "#FF9933", "#3399FF"]}, "legend": {"orient": "none", "legendX": 366, "legendY": 7, "title": null}}}},
     {"data": {"name": "fa"}, "transform": [{"filter": "datum.s == 'Open Loop'"}], "mark": {"type": "line", "strokeWidth": 2.5},
      "encoding": {"x": {"field": "t", "type": "temporal"}, "y": {"field": "v", "type": "quantitative"}, "color": {"field": "s", "type": "nominal"}}},
     {"data": {"values": [{}]}, "mark": {"type": "text", "text": "(a)", "fontWeight": "bold", "fontSize": 13, "align": "center", "baseline": "middle"},
      "encoding": {"x": {"datum": {"year":2016,"month":9,"date":17,"hours":14}, "type": "temporal"}, "y": {"datum": 116, "type": "quantitative"}}}
   ]},
   {"data": {"name": "pa"}, "mark": {"type": "line", "strokeWidth": 1.5},
    "encoding": {"x": {"field": "t", "type": "temporal"},
     "y": {"field": "v", "type": "quantitative", "scale": {"domain": [0, 20], "reverse": true, "nice": false},
           "axis": {"orient": "right", "values": [0, 10, 20], "tickCount": 10, "format": "d", "labelOverlap": false, "title": "mm/hr", "titleAngle": 270, "titleBaseline": "top", "titlePadding": 2, "titleFontSize": 12, "titleColor": "#3399FF", "labelColor": "#3399FF", "domainColor": "#3399FF", "tickColor": "#3399FF"}},
     "color": {"field": "s", "type": "nominal"}}}
  ],
  "resolve": {"scale": {"y": "independent"}}
 },
 {"width": 470, "height": 93,
  "title": {"text": "Kanawha River at Charleston WV, Gauge ID: 03198000"},
  "view": {"stroke": "#7f7f7f"},
  "layer": [
   {"layer": [
     {"data": {"name": "fb"}, "transform": [{"filter": "datum.s == 'Prior Mean'"}], "mark": {"type": "line", "strokeWidth": 2.5},
      "encoding": {
       "x": {"field": "t", "type": "temporal", "scale": {"domain": [{"year":2016,"month":6,"date":20},{"year":2016,"month":6,"date":30}], "nice": false},
             "axis": {"title": null, "labels": false, "values": [{"year":2016,"month":6,"date":20,"hours":18,"minutes":43},{"year":2016,"month":6,"date":21,"hours":17,"minutes":2},{"year":2016,"month":6,"date":22,"hours":15,"minutes":22},{"year":2016,"month":6,"date":23,"hours":13,"minutes":41},{"year":2016,"month":6,"date":24,"hours":12},{"year":2016,"month":6,"date":25,"hours":10,"minutes":19},{"year":2016,"month":6,"date":26,"hours":8,"minutes":38},{"year":2016,"month":6,"date":27,"hours":6,"minutes":58},{"year":2016,"month":6,"date":28,"hours":5,"minutes":17},{"year":2016,"month":6,"date":29,"hours":3,"minutes":36}]}},
       "y": {"field": "v", "type": "quantitative", "scale": {"domain": [0, 5000], "nice": false}, "axis": {"values": [0, 2000, 4000], "tickCount": 10, "format": "d", "labelOverlap": false, "title": "Streamflow (cms)"}},
       "color": {"field": "s", "type": "nominal", "scale": {"domain": ["Open Loop", "Prior Mean", "Precipitation"], "range": ["#000000", "#FF9933", "#3399FF"]}, "legend": {"orient": "none", "legendX": 367, "legendY": 7, "title": null}}}},
     {"data": {"name": "fb"}, "transform": [{"filter": "datum.s == 'Open Loop'"}], "mark": {"type": "line", "strokeWidth": 2.5},
      "encoding": {"x": {"field": "t", "type": "temporal"}, "y": {"field": "v", "type": "quantitative"}, "color": {"field": "s", "type": "nominal"}}},
     {"data": {"values": [{}]}, "mark": {"type": "text", "text": "(b)", "fontWeight": "bold", "fontSize": 13, "align": "center", "baseline": "middle"},
      "encoding": {"x": {"datum": {"year":2016,"month":6,"date":20,"hours":12,"minutes":14}, "type": "temporal"}, "y": {"datum": 3855, "type": "quantitative"}}}
   ]},
   {"data": {"name": "pb"}, "mark": {"type": "line", "strokeWidth": 1.5},
    "encoding": {"x": {"field": "t", "type": "temporal"},
     "y": {"field": "v", "type": "quantitative", "scale": {"domain": [0, 6], "reverse": true, "nice": false},
           "axis": {"orient": "right", "values": [0, 2, 4, 6], "tickCount": 10, "format": "d", "labelOverlap": false, "title": "mm/hr", "titleAngle": 270, "titleBaseline": "top", "titlePadding": 2, "titleFontSize": 12, "titleColor": "#3399FF", "labelColor": "#3399FF", "domainColor": "#3399FF", "tickColor": "#3399FF"}},
     "color": {"field": "s", "type": "nominal"}}}
  ],
  "resolve": {"scale": {"y": "independent"}}
 },
 {"width": 470, "height": 93, "layer": [
  {"data": {"name": "lc"}, "mark": {"type": "line"}, "encoding": {
   "x": {"field": "t", "type": "temporal", "scale": {"domain": [{"year":2016,"month":9,"date":15},{"year":2016,"month":10,"date":14}], "nice": false}, "axis": {"title": null, "labels": false, "values": [{"year":2016,"month":9,"date":15,"hours":12},{"year":2016,"month":9,"date":20,"hours":10},{"year":2016,"month":9,"date":25,"hours":8},{"year":2016,"month":9,"date":30,"hours":6},{"year":2016,"month":10,"date":5,"hours":4},{"year":2016,"month":10,"date":10,"hours":2}]}},
   "y": {"field": "v", "type": "quantitative", "scale": {"domain": [0.9, 2], "nice": false, "zero": false}, "axis": {"values": [1, 1.25, 1.5, 1.75], "tickCount": 10, "labelExpr": "format(datum.value, '.2~f')", "labelOverlap": false, "title": "λ", "titleFontSize": 14}},
   "color": {"field": "s", "type": "nominal", "scale": {"range": ["#8E5AB5"]}, "legend": {"orient": "none", "legendX": 319, "legendY": 9, "title": null}}}},
  {"data": {"values": [{}]}, "mark": {"type": "text", "text": "(c)", "fontWeight": "bold", "fontSize": 13, "align": "center", "baseline": "middle"},
   "encoding": {"x": {"datum": {"year":2016,"month":9,"date":17,"hours":14}, "type": "temporal"}, "y": {"datum": 1.72, "type": "quantitative"}}}
 ]},
 {"width": 470, "height": 93, "layer": [
  {"data": {"name": "ld"}, "mark": {"type": "line"}, "encoding": {
   "x": {"field": "t", "type": "temporal", "scale": {"domain": [{"year":2016,"month":6,"date":20},{"year":2016,"month":6,"date":30}], "nice": false}, "axis": {"title": null, "labels": false, "values": [{"year":2016,"month":6,"date":20,"hours":18,"minutes":43},{"year":2016,"month":6,"date":21,"hours":17,"minutes":2},{"year":2016,"month":6,"date":22,"hours":15,"minutes":22},{"year":2016,"month":6,"date":23,"hours":13,"minutes":41},{"year":2016,"month":6,"date":24,"hours":12},{"year":2016,"month":6,"date":25,"hours":10,"minutes":19},{"year":2016,"month":6,"date":26,"hours":8,"minutes":38},{"year":2016,"month":6,"date":27,"hours":6,"minutes":58},{"year":2016,"month":6,"date":28,"hours":5,"minutes":17},{"year":2016,"month":6,"date":29,"hours":3,"minutes":36}]}},
   "y": {"field": "v", "type": "quantitative", "scale": {"domain": [0.9, 2], "nice": false, "zero": false}, "axis": {"values": [1, 1.25, 1.5, 1.75], "tickCount": 10, "labelExpr": "format(datum.value, '.2~f')", "labelOverlap": false, "title": "λ", "titleFontSize": 14}},
   "color": {"field": "s", "type": "nominal", "scale": {"range": ["#8E5AB5"]}, "legend": {"orient": "none", "legendX": 321, "legendY": 9, "title": null}}}},
  {"data": {"values": [{}]}, "mark": {"type": "text", "text": "(d)", "fontWeight": "bold", "fontSize": 13, "align": "center", "baseline": "middle"},
   "encoding": {"x": {"datum": {"year":2016,"month":6,"date":20,"hours":12}, "type": "temporal"}, "y": {"datum": 1.72, "type": "quantitative"}}}
 ]},
 {"width": 470, "height": 93, "layer": [
  {"data": {"name": "le"}, "mark": {"type": "line"}, "encoding": {
   "x": {"field": "t", "type": "temporal", "scale": {"domain": [{"year":2016,"month":9,"date":15},{"year":2016,"month":10,"date":14}], "nice": false}, "axis": {"title": null, "labels": false, "values": [{"year":2016,"month":9,"date":15,"hours":12},{"year":2016,"month":9,"date":20,"hours":10},{"year":2016,"month":9,"date":25,"hours":8},{"year":2016,"month":9,"date":30,"hours":6},{"year":2016,"month":10,"date":5,"hours":4},{"year":2016,"month":10,"date":10,"hours":2}]}},
   "y": {"field": "v", "type": "quantitative", "scale": {"domain": [0.9, 2], "nice": false, "zero": false}, "axis": {"values": [1, 1.25, 1.5, 1.75], "tickCount": 10, "labelExpr": "format(datum.value, '.2~f')", "labelOverlap": false, "title": "λ", "titleFontSize": 14}},
   "color": {"field": "s", "type": "nominal", "scale": {"range": ["#E8503A"]}, "legend": {"orient": "none", "legendX": 319, "legendY": 9, "title": null}}}},
  {"data": {"values": [{}]}, "mark": {"type": "text", "text": "(e)", "fontWeight": "bold", "fontSize": 13, "align": "center", "baseline": "middle"},
   "encoding": {"x": {"datum": {"year":2016,"month":9,"date":17,"hours":14}, "type": "temporal"}, "y": {"datum": 1.72, "type": "quantitative"}}}
 ]},
 {"width": 470, "height": 93, "layer": [
  {"data": {"name": "lf"}, "mark": {"type": "line"}, "encoding": {
   "x": {"field": "t", "type": "temporal", "scale": {"domain": [{"year":2016,"month":6,"date":20},{"year":2016,"month":6,"date":30}], "nice": false}, "axis": {"title": null, "labels": false, "values": [{"year":2016,"month":6,"date":20,"hours":18,"minutes":43},{"year":2016,"month":6,"date":21,"hours":17,"minutes":2},{"year":2016,"month":6,"date":22,"hours":15,"minutes":22},{"year":2016,"month":6,"date":23,"hours":13,"minutes":41},{"year":2016,"month":6,"date":24,"hours":12},{"year":2016,"month":6,"date":25,"hours":10,"minutes":19},{"year":2016,"month":6,"date":26,"hours":8,"minutes":38},{"year":2016,"month":6,"date":27,"hours":6,"minutes":58},{"year":2016,"month":6,"date":28,"hours":5,"minutes":17},{"year":2016,"month":6,"date":29,"hours":3,"minutes":36}]}},
   "y": {"field": "v", "type": "quantitative", "scale": {"domain": [0.9, 2], "nice": false, "zero": false}, "axis": {"values": [1, 1.25, 1.5, 1.75], "tickCount": 10, "labelExpr": "format(datum.value, '.2~f')", "labelOverlap": false, "title": "λ", "titleFontSize": 14}},
   "color": {"field": "s", "type": "nominal", "scale": {"range": ["#E8503A"]}, "legend": {"orient": "none", "legendX": 321, "legendY": 9, "title": null}}}},
  {"data": {"values": [{}]}, "mark": {"type": "text", "text": "(f)", "fontWeight": "bold", "fontSize": 13, "align": "center", "baseline": "middle"},
   "encoding": {"x": {"datum": {"year":2016,"month":6,"date":20,"hours":12}, "type": "temporal"}, "y": {"datum": 1.72, "type": "quantitative"}}}
 ]},
 {"width": 470, "height": 93, "layer": [
  {"data": {"name": "lg"}, "mark": {"type": "line"}, "encoding": {
   "x": {"field": "t", "type": "temporal", "scale": {"domain": [{"year":2016,"month":9,"date":15},{"year":2016,"month":10,"date":14}], "nice": false}, "axis": {"title": null, "labels": false, "values": [{"year":2016,"month":9,"date":15,"hours":12},{"year":2016,"month":9,"date":20,"hours":10},{"year":2016,"month":9,"date":25,"hours":8},{"year":2016,"month":9,"date":30,"hours":6},{"year":2016,"month":10,"date":5,"hours":4},{"year":2016,"month":10,"date":10,"hours":2}]}},
   "y": {"field": "v", "type": "quantitative", "scale": {"domain": [0.9, 2], "nice": false, "zero": false}, "axis": {"values": [1, 1.25, 1.5, 1.75], "tickCount": 10, "labelExpr": "format(datum.value, '.2~f')", "labelOverlap": false, "title": "λ", "titleFontSize": 14}},
   "color": {"field": "s", "type": "nominal", "scale": {"range": ["#16A07A"]}, "legend": {"orient": "none", "legendX": 319, "legendY": 9, "title": null}}}},
  {"data": {"values": [{}]}, "mark": {"type": "text", "text": "(g)", "fontWeight": "bold", "fontSize": 13, "align": "center", "baseline": "middle"},
   "encoding": {"x": {"datum": {"year":2016,"month":9,"date":17,"hours":14}, "type": "temporal"}, "y": {"datum": 1.72, "type": "quantitative"}}}
 ]},
 {"width": 470, "height": 93, "layer": [
  {"data": {"name": "lh"}, "mark": {"type": "line"}, "encoding": {
   "x": {"field": "t", "type": "temporal", "scale": {"domain": [{"year":2016,"month":6,"date":20},{"year":2016,"month":6,"date":30}], "nice": false}, "axis": {"title": null, "labels": false, "values": [{"year":2016,"month":6,"date":20,"hours":18,"minutes":43},{"year":2016,"month":6,"date":21,"hours":17,"minutes":2},{"year":2016,"month":6,"date":22,"hours":15,"minutes":22},{"year":2016,"month":6,"date":23,"hours":13,"minutes":41},{"year":2016,"month":6,"date":24,"hours":12},{"year":2016,"month":6,"date":25,"hours":10,"minutes":19},{"year":2016,"month":6,"date":26,"hours":8,"minutes":38},{"year":2016,"month":6,"date":27,"hours":6,"minutes":58},{"year":2016,"month":6,"date":28,"hours":5,"minutes":17},{"year":2016,"month":6,"date":29,"hours":3,"minutes":36}]}},
   "y": {"field": "v", "type": "quantitative", "scale": {"domain": [0.9, 2], "nice": false, "zero": false}, "axis": {"values": [1, 1.25, 1.5, 1.75], "tickCount": 10, "labelExpr": "format(datum.value, '.2~f')", "labelOverlap": false, "title": "λ", "titleFontSize": 14}},
   "color": {"field": "s", "type": "nominal", "scale": {"range": ["#16A07A"]}, "legend": {"orient": "none", "legendX": 321, "legendY": 9, "title": null}}}},
  {"data": {"values": [{}]}, "mark": {"type": "text", "text": "(h)", "fontWeight": "bold", "fontSize": 13, "align": "center", "baseline": "middle"},
   "encoding": {"x": {"datum": {"year":2016,"month":6,"date":20,"hours":12}, "type": "temporal"}, "y": {"datum": 1.72, "type": "quantitative"}}}
 ]},
 {"width": 470, "height": 93, "layer": [
  {"data": {"name": "li"}, "mark": {"type": "line"}, "encoding": {
   "x": {"field": "t", "type": "temporal", "scale": {"domain": [{"year":2016,"month":9,"date":15},{"year":2016,"month":10,"date":14}], "nice": false}, "axis": {"title": null, "labels": false, "values": [{"year":2016,"month":9,"date":15,"hours":12},{"year":2016,"month":9,"date":20,"hours":10},{"year":2016,"month":9,"date":25,"hours":8},{"year":2016,"month":9,"date":30,"hours":6},{"year":2016,"month":10,"date":5,"hours":4},{"year":2016,"month":10,"date":10,"hours":2}]}},
   "y": {"field": "v", "type": "quantitative", "scale": {"domain": [0.9, 2], "nice": false, "zero": false}, "axis": {"values": [1, 1.25, 1.5, 1.75], "tickCount": 10, "labelExpr": "format(datum.value, '.2~f')", "labelOverlap": false, "title": "λ", "titleFontSize": 14}},
   "color": {"field": "s", "type": "nominal", "scale": {"range": ["#5AB4EA"]}, "legend": {"orient": "none", "legendX": 319, "legendY": 9, "title": null}}}},
  {"data": {"values": [{}]}, "mark": {"type": "text", "text": "(i)", "fontWeight": "bold", "fontSize": 13, "align": "center", "baseline": "middle"},
   "encoding": {"x": {"datum": {"year":2016,"month":9,"date":17,"hours":14}, "type": "temporal"}, "y": {"datum": 1.72, "type": "quantitative"}}}
 ]},
 {"width": 470, "height": 93, "layer": [
  {"data": {"name": "lj"}, "mark": {"type": "line"}, "encoding": {
   "x": {"field": "t", "type": "temporal", "scale": {"domain": [{"year":2016,"month":6,"date":20},{"year":2016,"month":6,"date":30}], "nice": false}, "axis": {"title": null, "labels": false, "values": [{"year":2016,"month":6,"date":20,"hours":18,"minutes":43},{"year":2016,"month":6,"date":21,"hours":17,"minutes":2},{"year":2016,"month":6,"date":22,"hours":15,"minutes":22},{"year":2016,"month":6,"date":23,"hours":13,"minutes":41},{"year":2016,"month":6,"date":24,"hours":12},{"year":2016,"month":6,"date":25,"hours":10,"minutes":19},{"year":2016,"month":6,"date":26,"hours":8,"minutes":38},{"year":2016,"month":6,"date":27,"hours":6,"minutes":58},{"year":2016,"month":6,"date":28,"hours":5,"minutes":17},{"year":2016,"month":6,"date":29,"hours":3,"minutes":36}]}},
   "y": {"field": "v", "type": "quantitative", "scale": {"domain": [0.9, 2], "nice": false, "zero": false}, "axis": {"values": [1, 1.25, 1.5, 1.75], "tickCount": 10, "labelExpr": "format(datum.value, '.2~f')", "labelOverlap": false, "title": "λ", "titleFontSize": 14}},
   "color": {"field": "s", "type": "nominal", "scale": {"range": ["#5AB4EA"]}, "legend": {"orient": "none", "legendX": 321, "legendY": 9, "title": null}}}},
  {"data": {"values": [{}]}, "mark": {"type": "text", "text": "(j)", "fontWeight": "bold", "fontSize": 13, "align": "center", "baseline": "middle"},
   "encoding": {"x": {"datum": {"year":2016,"month":6,"date":20,"hours":12}, "type": "temporal"}, "y": {"datum": 1.72, "type": "quantitative"}}}
 ]},
 {"width": 470, "height": 93, "layer": [
  {"data": {"name": "lk"}, "mark": {"type": "line"}, "encoding": {
   "x": {"field": "t", "type": "temporal", "scale": {"domain": [{"year":2016,"month":9,"date":15},{"year":2016,"month":10,"date":14}], "nice": false}, "axis": {"title": null, "labels": false, "values": [{"year":2016,"month":9,"date":15,"hours":12},{"year":2016,"month":9,"date":20,"hours":10},{"year":2016,"month":9,"date":25,"hours":8},{"year":2016,"month":9,"date":30,"hours":6},{"year":2016,"month":10,"date":5,"hours":4},{"year":2016,"month":10,"date":10,"hours":2}]}},
   "y": {"field": "v", "type": "quantitative", "scale": {"domain": [0.9, 2], "nice": false, "zero": false}, "axis": {"values": [1, 1.25, 1.5, 1.75], "tickCount": 10, "labelExpr": "format(datum.value, '.2~f')", "labelOverlap": false, "title": "λ", "titleFontSize": 14}},
   "color": {"field": "s", "type": "nominal", "scale": {"range": ["#E8A000"]}, "legend": {"orient": "none", "legendX": 319, "legendY": 9, "title": null}}}},
  {"data": {"values": [{}]}, "mark": {"type": "text", "text": "(k)", "fontWeight": "bold", "fontSize": 13, "align": "center", "baseline": "middle"},
   "encoding": {"x": {"datum": {"year":2016,"month":9,"date":17,"hours":14}, "type": "temporal"}, "y": {"datum": 1.72, "type": "quantitative"}}}
 ]},
 {"width": 470, "height": 93, "layer": [
  {"data": {"name": "ll"}, "mark": {"type": "line"}, "encoding": {
   "x": {"field": "t", "type": "temporal", "scale": {"domain": [{"year":2016,"month":6,"date":20},{"year":2016,"month":6,"date":30}], "nice": false}, "axis": {"title": null, "labels": false, "values": [{"year":2016,"month":6,"date":20,"hours":18,"minutes":43},{"year":2016,"month":6,"date":21,"hours":17,"minutes":2},{"year":2016,"month":6,"date":22,"hours":15,"minutes":22},{"year":2016,"month":6,"date":23,"hours":13,"minutes":41},{"year":2016,"month":6,"date":24,"hours":12},{"year":2016,"month":6,"date":25,"hours":10,"minutes":19},{"year":2016,"month":6,"date":26,"hours":8,"minutes":38},{"year":2016,"month":6,"date":27,"hours":6,"minutes":58},{"year":2016,"month":6,"date":28,"hours":5,"minutes":17},{"year":2016,"month":6,"date":29,"hours":3,"minutes":36}]}},
   "y": {"field": "v", "type": "quantitative", "scale": {"domain": [0.9, 2], "nice": false, "zero": false}, "axis": {"values": [1, 1.25, 1.5, 1.75], "tickCount": 10, "labelExpr": "format(datum.value, '.2~f')", "labelOverlap": false, "title": "λ", "titleFontSize": 14}},
   "color": {"field": "s", "type": "nominal", "scale": {"range": ["#E8A000"]}, "legend": {"orient": "none", "legendX": 321, "legendY": 9, "title": null}}}},
  {"data": {"values": [{}]}, "mark": {"type": "text", "text": "(l)", "fontWeight": "bold", "fontSize": 13, "align": "center", "baseline": "middle"},
   "encoding": {"x": {"datum": {"year":2016,"month":6,"date":20,"hours":12}, "type": "temporal"}, "y": {"datum": 1.72, "type": "quantitative"}}}
 ]},
 {"width": 470, "height": 93, "layer": [
  {"data": {"name": "lm"}, "mark": {"type": "line"}, "encoding": {
   "x": {"field": "t", "type": "temporal", "scale": {"domain": [{"year":2016,"month":9,"date":15},{"year":2016,"month":10,"date":14}], "nice": false},
         "axis": {"title": null, "values": [{"year":2016,"month":9,"date":15},{"year":2016,"month":9,"date":22,"hours":6},{"year":2016,"month":9,"date":29,"hours":12},{"year":2016,"month":10,"date":6,"hours":18},{"year":2016,"month":10,"date":14}], "labelOverlap": false, "labelExpr": "timeFormat(time(datum.value) + 43200000, '%b %d')"}},
   "y": {"field": "v", "type": "quantitative", "scale": {"domain": [0.9, 2], "nice": false, "zero": false}, "axis": {"values": [1, 1.25, 1.5, 1.75], "tickCount": 10, "labelExpr": "format(datum.value, '.2~f')", "labelOverlap": false, "title": "λ", "titleFontSize": 14}},
   "color": {"field": "s", "type": "nominal", "scale": {"range": ["#A6A6A6"]}, "legend": {"orient": "none", "legendX": 361, "legendY": 9, "title": null}}}},
  {"data": {"values": [{}]}, "mark": {"type": "text", "text": "(m)", "fontWeight": "bold", "fontSize": 13, "align": "center", "baseline": "middle"},
   "encoding": {"x": {"datum": {"year":2016,"month":9,"date":17,"hours":14}, "type": "temporal"}, "y": {"datum": 1.72, "type": "quantitative"}}}
 ]},
 {"width": 470, "height": 93, "layer": [
  {"data": {"name": "ln"}, "mark": {"type": "line"}, "encoding": {
   "x": {"field": "t", "type": "temporal", "scale": {"domain": [{"year":2016,"month":6,"date":20},{"year":2016,"month":6,"date":30}], "nice": false},
         "axis": {"title": null, "values": [{"year":2016,"month":6,"date":20},{"year":2016,"month":6,"date":22,"hours":11,"minutes":50},{"year":2016,"month":6,"date":25},{"year":2016,"month":6,"date":27,"hours":12},{"year":2016,"month":6,"date":30}], "labelOverlap": false, "labelExpr": "timeFormat(time(datum.value) + 43200000, '%b %d')"}},
   "y": {"field": "v", "type": "quantitative", "scale": {"domain": [0.9, 2], "nice": false, "zero": false}, "axis": {"values": [1, 1.25, 1.5, 1.75], "tickCount": 10, "labelExpr": "format(datum.value, '.2~f')", "labelOverlap": false, "title": "λ", "titleFontSize": 14}},
   "color": {"field": "s", "type": "nominal", "scale": {"range": ["#A6A6A6"]}, "legend": {"orient": "none", "legendX": 363, "legendY": 9, "title": null}}}},
  {"data": {"values": [{}]}, "mark": {"type": "text", "text": "(n)", "fontWeight": "bold", "fontSize": 13, "align": "center", "baseline": "middle"},
   "encoding": {"x": {"datum": {"year":2016,"month":6,"date":20,"hours":12}, "type": "temporal"}, "y": {"datum": 1.72, "type": "quantitative"}}}
 ]}
]
}
